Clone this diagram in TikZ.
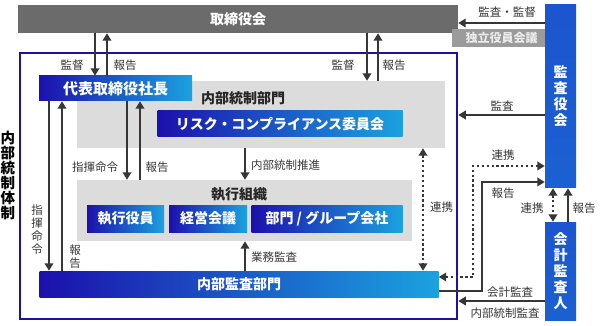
\documentclass[tikz,border=0pt]{standalone}
\usepackage{fontspec}
\setmainfont{Noto Sans CJK JP}
\usetikzlibrary{arrows.meta}
\definecolor{bddark}{HTML}{6B6B6B}
\definecolor{bdlight}{HTML}{9B9B9B}
\definecolor{panel}{HTML}{DCDCDC}
\definecolor{navy}{HTML}{1C10AC}
\definecolor{sky}{HTML}{1BA2E0}
\definecolor{audblue}{HTML}{1B55CF}
\definecolor{frameblue}{HTML}{1D0FA8}
\definecolor{ink}{HTML}{363636}
\tikzset{
  blk/.style={inner sep=0pt, text=white, font=\fontsize{14}{16}\selectfont\bfseries},
  gbox/.style={blk, fill=bddark},
  pane/.style={inner sep=0pt, fill=panel},
  grad/.style={blk, left color=navy, right color=sky},
  vbox/.style={blk, top color=audblue, bottom color=audblue!85!sky, align=center},
  flow/.style={-{Triangle[length=7.5pt, width=8.5pt]}, line width=2.3pt, draw=ink},
  dflow/.style={{Triangle[length=7.5pt, width=8.5pt]}-{Triangle[length=7.5pt, width=8.5pt]},
    line width=2.3pt, draw=ink, dash pattern=on 2.3pt off 2.6pt},
  lab/.style={inner sep=1pt, text=ink, font=\fontsize{11.5}{13}\selectfont},
  vlab/.style={lab, align=center},
  ttl/.style={inner sep=0pt, text=black!85, font=\fontsize{14}{16}\selectfont\bfseries},
}

\begin{document}
\begin{tikzpicture}[x=1pt, y=-1pt]
    \useasboundingbox (0,0) rectangle (600,326);
    % board and auditors
    \node[gbox, minimum width=440pt, minimum height=28pt] (board) at (238,19) {取締役会};
    \node[gbox, fill=bdlight, text=white!92!black, minimum width=99pt, minimum height=18pt,
      font=\fontsize{12}{14}\selectfont\bfseries] (indep) at (501.5,38) {独立役員会議};
    \node[vbox, minimum width=31pt, minimum height=183pt] (kansa) at (560.5,96.5)
      {監\\査\\役\\会};
    \node[vbox, minimum width=31pt, minimum height=98pt] (kaikei) at (560.5,271)
      {会\\計\\監\\査\\人};
    % internal control frame
    \node[draw=frameblue, line width=2.5pt, minimum width=437pt, minimum height=266pt,
      inner sep=0pt] (frame) at (238.5,186) {};
    \node[ttl, align=center, text=black, font=\fontsize{14.5}{15}\selectfont\bfseries]
      (framelab) at (8,175) {内\\部\\統\\制\\体\\制};
    % control dept
    \node[pane, minimum width=368pt, minimum height=67pt] (ctlbg) at (261,114.5) {};
    \node[ttl] (ctllab) at (243,98) {内部統制部門};
    \node[grad, minimum width=245pt, minimum height=26pt] (risk) at (280,124)
      {リスク・コンプライアンス委員会};
    \node[grad, minimum width=153pt, minimum height=25pt,
      font=\fontsize{15}{17}\selectfont\bfseries] (pres) at (115.5,88.5) {代表取締役社長};
    % executive org
    \node[pane, minimum width=335pt, minimum height=61pt] (execbg) at (244.5,210.5) {};
    \node[ttl] (execlab) at (239,194) {執行組織};
    \node[grad, minimum width=77pt, minimum height=27pt] (off) at (125.5,218.5) {執行役員};
    \node[grad, minimum width=78pt, minimum height=27pt] (mtg) at (208,218.5) {経営会議};
    \node[grad, minimum width=151pt, minimum height=27pt] (grp) at (327,218.5) {部門 / グループ会社};
    % internal audit
    \node[grad, minimum width=399pt, minimum height=26pt] (audit) at (239,284) {内部監査部門};

    % board links
    \draw[flow] (board.south -| 95,0) -- (pres.north -| 95,0);
    \draw[flow] (pres.north -| 107,0) -- (board.south -| 107,0);
    \node[lab] (l1) at (72,65) {監督};
    \node[lab] (l2) at (125,65) {報告};
    \draw[flow] (board.south -| 367,0) -- (ctlbg.north -| 367,0);
    \draw[flow] (ctlbg.north -| 378,0) -- (board.south -| 378,0);
    \node[lab] (l3) at (343,65) {監督};
    \node[lab] (l4) at (394,65) {報告};
    \draw[flow] (kansa.west |- 0,23) -- (board.east |- 0,23);
    \node[lab] (l5) at (507,12) {監査・監督};
    \draw[flow] (kansa.west |- 0,115) -- (frame.east |- 0,115);
    \node[lab] (l6) at (502,106) {監査};
    % president links
    \draw[flow] (pres.south -| 127,0) -- (execbg.north -| 127,0);
    \draw[flow] (execbg.north -| 140,0) -- (pres.south -| 140,0);
    \node[lab] (l7) at (95,167) {指揮命令};
    \node[lab] (l8) at (157,167) {報告};
    \draw[flow] (pres.south -| 49,0) -- (audit.north -| 49,0);
    \draw[flow] (audit.north -| 62,0) -- (pres.south -| 62,0);
    \node[vlab] (l9) at (37,230) {指\\揮\\命\\令};
    \node[vlab] (l10) at (75,257) {報\\告};
    % inside links
    \draw[flow] (ctlbg.south -| 245,0) -- (execbg.north -| 245,0);
    \node[lab, anchor=west] (l11) at (250,165) {内部統制推進};
    \draw[flow] (audit.north -| 245,0) -- (execbg.south -| 245,0);
    \node[lab, anchor=west] (l12) at (250,257) {業務監査};
    \draw[dflow] (ctlbg.south -| 423,0) -- (audit.north -| 423,0);
    \node[lab, anchor=west] (l13) at (429,207) {連携};
    % auditors links
    \draw[dflow] (audit.east |- 0,277) -| (473,166) -- (kansa.west |- 0,166);
    \node[lab] (l14) at (503,155) {連携};
    \draw[flow] (audit.east |- 0,291) -| (482,182) -- (kansa.west |- 0,182);
    \node[lab] (l15) at (503,193) {報告};
    \draw[dflow] (kansa.south -| 553,0) -- (kaikei.north -| 553,0);
    \node[lab] (l16) at (532,208) {連携};
    \draw[flow] (kaikei.north -| 568,0) -- (kansa.south -| 568,0);
    \node[lab] (l17) at (584,208) {報告};
    \draw[flow] (kaikei.west |- 0,301) -- (frame.east |- 0,301);
    \node[lab] (l18) at (510,292) {会計監査};
    \node[lab] (l19) at (505,313) {内部統制監査};
\end{tikzpicture}
\end{document}
